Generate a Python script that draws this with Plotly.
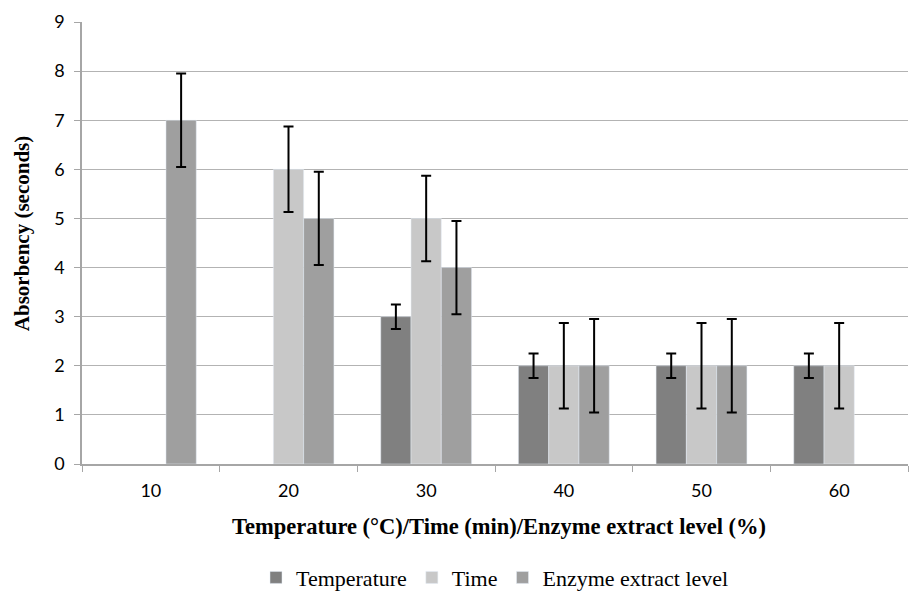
import plotly.graph_objects as go

categories = ["10", "20", "30", "40", "50", "60"]
temperature = [None, None, 3, 2, 2, 2]
temperature_err = [None, None, 0.25, 0.25, 0.25, 0.25]
time_vals = [None, 6, 5, 2, 2, 2]
time_err = [None, 0.87, 0.87, 0.87, 0.87, 0.87]
enzyme = [7, 5, 4, 2, 2, None]
enzyme_err = [0.95, 0.95, 0.95, 0.95, 0.95, None]
y_ticks = [0, 1, 2, 3, 4, 5, 6, 7, 8, 9]

x_title = "Temperature (°C)/Time (min)/Enzyme extract level (%)"
y_title = "Absorbency (seconds)"

SERIF = "Liberation Serif, Times New Roman, serif"
SANS = "Lato, Open Sans, sans-serif"


def err(arr):
    return dict(type="data", array=[a if a is not None else 0 for a in arr],
                visible=True, color="black", thickness=2, width=5)


fig = go.Figure()
fig.add_trace(go.Bar(name="Temperature", x=categories, y=temperature,
                     error_y=err(temperature_err), marker_color="#808080"))
fig.add_trace(go.Bar(name="Time", x=categories, y=time_vals,
                     error_y=err(time_err), marker_color="#c8c8c8"))
fig.add_trace(go.Bar(name="Enzyme extract level", x=categories, y=enzyme,
                     error_y=err(enzyme_err), marker_color="#9f9f9f"))

fig.update_layout(
    width=909, height=599,
    margin=dict(l=82, r=1, t=22, b=133),
    paper_bgcolor="white", plot_bgcolor="white",
    barmode="group", bargap=0.34, bargroupgap=0,
    showlegend=True,
    legend=dict(orientation="h", x=0.5, xanchor="center", y=-0.257, yanchor="middle",
                font=dict(family=SERIF, size=22, color="black"),
                itemwidth=30, traceorder="normal"),
    xaxis=dict(
        type="category", showgrid=False, showline=True, linecolor="#a6a6a6", linewidth=1.5,
        ticks="outside", tickson="boundaries", ticklen=6, tickcolor="#a6a6a6",
        ticklabelstandoff=10,
        tickfont=dict(family=SANS, size=18, color="black"),
    ),
    yaxis=dict(
        range=[0, 9], tickvals=y_ticks, showgrid=True, gridcolor="#b3b3b3", gridwidth=1.3,
        showline=True, linecolor="#a6a6a6", linewidth=1.5, zeroline=False,
        ticks="outside", ticklen=6, tickcolor="#a6a6a6",
        ticklabelstandoff=6,
        tickfont=dict(family=SANS, size=18, color="black"),
    ),
    annotations=[
        dict(text="<b>" + x_title + "</b>", xref="paper", yref="paper",
             x=0.5045, y=-0.142, xanchor="center", yanchor="middle", showarrow=False,
             font=dict(family=SERIF, size=22.5, color="black")),
        dict(text="<b>" + y_title + "</b>", xref="paper", yref="paper",
             x=-0.0726, y=0.52, xanchor="center", yanchor="middle", showarrow=False,
             textangle=-90, font=dict(family=SERIF, size=21, color="black")),
    ],
)

fig.write_html("out.html", config={"displayModeBar": False},
               post_script="document.body.style.margin='0';")
